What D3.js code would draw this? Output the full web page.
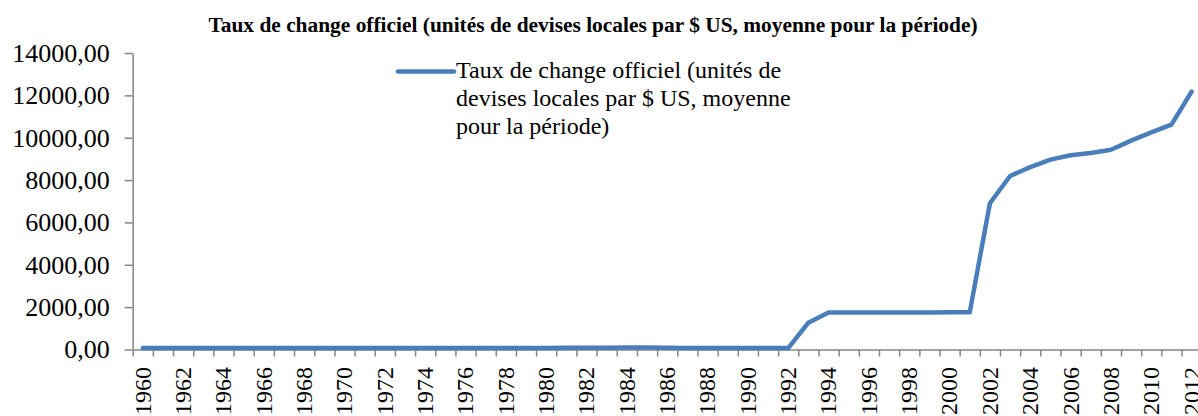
<!DOCTYPE html>
<html>
<head>
<meta charset="utf-8">
<script src="https://cdn.jsdelivr.net/npm/d3@7"></script>
<style>
  body { margin: 0; background: white; }
</style>
</head>
<body>
<script>
var years = d3.range(1960, 2013)
var rates = [75.75, 75.75, 75.75, 75.75, 75.75, 75.75, 75.75, 75.75, 75.75, 75.75,
  75.75, 75.2, 75.75, 68.88, 67.63, 69.22, 70.22, 70.62, 70.48, 70.48,
  72.15, 79.16, 83.6, 86.36, 90.03, 91.05, 78.76, 71.46, 68.68, 72.02,
  68.1, 67.51, 65.55, 1267.77, 1748.75, 1747.93, 1750.76, 1752.92, 1751.86, 1752.93,
  1764.43, 1753.56, 6906.96, 8193.89, 8613.99, 8963.96, 9170.94, 9281.15, 9428.53, 9864.3,
  10254.18, 10616.31, 12175.55]
var yTicks = [0, 2000, 4000, 6000, 8000, 10000, 12000, 14000]
var labelYears = years.filter(d => (d - 1960) % 2 == 0)

var title = "Taux de change officiel (unités de devises locales par $ US, moyenne pour la période)"
var legendLines = ["Taux de change officiel (unités de", "devises locales par $ US, moyenne", "pour la période)"]

var width = 1198, height = 416
var blue = "#4a7ebb", grey = "#868686"
var serif = "'Liberation Serif', 'Times New Roman', Times, serif"

var svg = d3.select("body").append("svg")
    .attr("width", width)
    .attr("height", height)
    .style("font-family", serif)

var x = d3.scaleLinear()
    .domain([1959.5, 2012.5])
    .range([132.7, 1201.7])

var y = d3.scaleLinear()
    .domain([0, 14000])
    .range([349.5, 53])

// title
svg.append("text")
    .attr("x", 593)
    .attr("y", 31.5)
    .attr("text-anchor", "middle")
    .style("font-family", serif)
    .style("font-weight", "bold")
    .style("font-size", "21.4px")
    .text(title)

// y axis
var yAxis = svg.append("g")
    .attr("transform", "translate(" + x.range()[0] + ",0)")
    .call(d3.axisLeft(y).tickValues(yTicks)
        .tickFormat(d => d.toFixed(2).replace(".", ","))
        .tickSize(8).tickSizeOuter(0).tickPadding(15))
yAxis.attr("font-family", null).attr("font-size", null)
yAxis.selectAll("text")
    .style("font-family", serif)
    .style("font-size", "26px")
    .attr("fill", "black")
yAxis.selectAll("line,path").attr("stroke", grey).attr("stroke-width", 1.5)

// x axis: ticks between categories
var xAxis = svg.append("g")
    .attr("transform", "translate(0," + y(0) + ")")
    .call(d3.axisBottom(x).tickValues(d3.range(1959.5, 2013, 1))
        .tickFormat("").tickSize(7).tickSizeOuter(0))
xAxis.selectAll("line,path").attr("stroke", grey).attr("stroke-width", 1.5)

svg.append("g")
    .selectAll("text")
    .data(labelYears)
    .enter()
    .append("text")
    .attr("transform", d => "translate(" + x(d) + ",367) rotate(-90)")
    .attr("text-anchor", "end")
    .attr("dy", "0.33em")
    .style("font-family", serif)
    .style("font-size", "24px")
    .text(d => d)

// line
var line = d3.line()
    .x((d, i) => x(years[i]))
    .y(d => y(d))

svg.append("path")
    .datum(rates)
    .attr("d", line)
    .attr("fill", "none")
    .attr("stroke", blue)
    .attr("stroke-width", 4.5)
    .attr("stroke-linejoin", "round")
    .attr("stroke-linecap", "round")

// legend
var legend = svg.append("g")
legend.append("line")
    .attr("x1", 398).attr("x2", 454)
    .attr("y1", 71.5).attr("y2", 71.5)
    .attr("stroke", blue)
    .attr("stroke-width", 4.5)
    .attr("stroke-linecap", "round")
legend.selectAll("text")
    .data(legendLines)
    .enter()
    .append("text")
    .attr("x", 456)
    .attr("y", (d, i) => 77.5 + i * 28.2)
    .style("font-family", serif)
    .style("font-size", "24px")
    .text(d => d)
</script>
</body>
</html>
